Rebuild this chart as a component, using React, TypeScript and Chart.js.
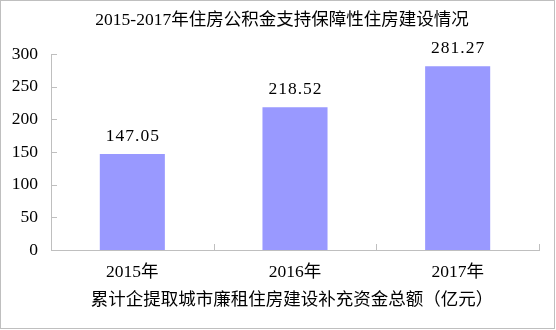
import React, { useEffect, useRef } from "react";
import { Chart, registerables } from "chart.js";

Chart.register(...registerables);

const titleText = "2015-2017年住房公积金支持保障性住房建设情况";
const xAxisTitle = "累计企提取城市廉租住房建设补充资金总额（亿元）";
const categories = ["2015年", "2016年", "2017年"];
const values = [147.05, 218.52, 281.27];
const valueLabels = ["147.05", "218.52", "281.27"];
const yMin = 0;
const yMax = 300;
const yStep = 50;

const FONT = "'Liberation Serif', 'Noto Sans CJK SC', serif";
const AXIS_COLOR = "#bfbfbf";

const decorPlugin = {
  id: "decor",
  afterDraw(chart: any) {
    const ctx = chart.ctx;
    const area = chart.chartArea;
    const xs = chart.scales.x;
    const ys = chart.scales.y;
    ctx.save();
    // outer border
    ctx.strokeStyle = AXIS_COLOR;
    ctx.lineWidth = 1;
    ctx.strokeRect(0.5, 0.5, 554, 328);
    // inward ticks on y axis
    ctx.beginPath();
    ys.ticks.forEach((t: any, i: number) => {
      const y = Math.round(ys.getPixelForTick(i)) + 0.5;
      ctx.moveTo(area.left, y);
      ctx.lineTo(area.left + 6, y);
    });
    // inward ticks on x axis at category boundaries
    const n = categories.length;
    for (let i = 0; i < n; i++) {
      const x = Math.round(xs.getPixelForValue(i + 0.5)) + 0.5;
      ctx.moveTo(x, area.bottom);
      ctx.lineTo(x, area.bottom - 6);
    }
    ctx.stroke();
    // title
    ctx.fillStyle = "#000";
    ctx.font = `17.5px ${FONT}`;
    ctx.textAlign = "center";
    ctx.textBaseline = "middle";
    ctx.fillText(titleText, 282, 20);
    // x axis title
    ctx.fillText(xAxisTitle, 292, 300);
    // data labels
    const meta = chart.getDatasetMeta(0);
    try {
      (ctx as any).letterSpacing = "1px";
    } catch (e) {}
    meta.data.forEach((bar: any, i: number) => {
      ctx.fillText(valueLabels[i], bar.x + 0.5, bar.y - 18);
    });
    ctx.restore();
  },
};

export default function App() {
  const ref = useRef<HTMLCanvasElement>(null);
  useEffect(() => {
    if (!ref.current) return;
    const chart = new Chart(ref.current, {
      type: "bar",
      data: {
        labels: categories,
        datasets: [
          {
            data: values,
            backgroundColor: "#9999ff",
            borderWidth: 0,
            categoryPercentage: 1,
            barPercentage: 0.4,
          },
        ],
      },
      options: {
        responsive: false,
        animation: false,
        maintainAspectRatio: false,
        layout: { padding: { top: 54, right: 17, left: 0, bottom: 0 } },
        plugins: {
          legend: { display: false },
          title: { display: false },
          tooltip: { enabled: false },
        },
        scales: {
          x: {
            grid: { display: false, drawTicks: false },
            border: { display: true, color: AXIS_COLOR, width: 1 },
            ticks: { color: "#000", font: { family: FONT, size: 17.5 }, padding: 12 },
            afterFit: (s: any) => {
              s.height = 80;
            },
          },
          y: {
            min: yMin,
            max: yMax,
            grid: { display: false, drawTicks: false },
            border: { display: true, color: AXIS_COLOR, width: 1 },
            ticks: {
              stepSize: yStep,
              color: "#000",
              font: { family: FONT, size: 17.5 },
              padding: 13,
            },
            afterFit: (s: any) => {
              s.width = 51;
            },
          },
        },
      },
      plugins: [decorPlugin],
    });
    return () => chart.destroy();
  }, []);
  return (
    <div style={{ position: "fixed", left: 0, top: 0, width: 556, height: 330, background: "#fff" }}>
      <canvas ref={ref} width={556} height={330} style={{ display: "block", width: 556, height: 330 }} />
    </div>
  );
}
